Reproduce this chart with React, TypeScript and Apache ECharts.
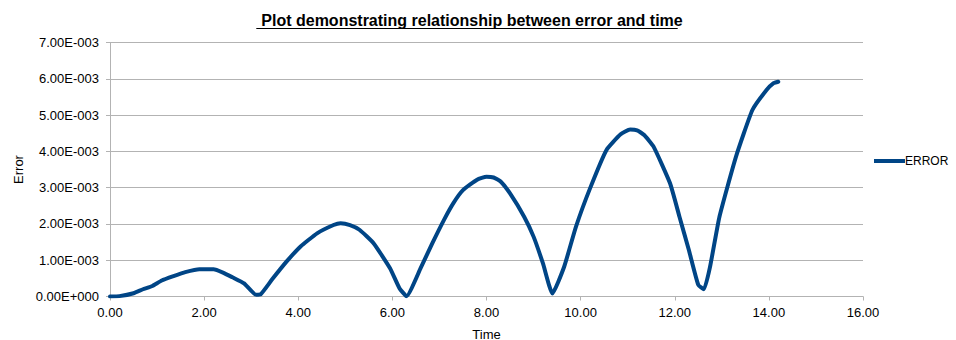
import React, { useEffect, useRef } from "react";
import * as echarts from "echarts";

const TITLE = "Plot demonstrating relationship between error and time";
const SERIES_NAME = "ERROR";
const X_NAME = "Time";
const Y_NAME = "Error";

const times = [
  0, 0.2, 0.5, 0.7, 0.9, 1.1, 1.35, 1.6, 1.9, 2.2, 2.4, 2.6, 2.85, 3.1, 3.2, 3.45, 3.75, 4.05,
  4.4, 4.75, 4.9, 5.1, 5.3, 5.6, 5.95, 6.15, 6.3, 6.6, 6.85, 7.1, 7.3, 7.5, 7.8, 8.0, 8.15,
  8.3, 8.5, 8.8, 9.0, 9.2, 9.4, 9.65, 9.9, 10.2, 10.55, 10.85, 11.05, 11.2, 11.35, 11.55,
  11.9, 12.1, 12.3, 12.5, 12.62, 12.75, 12.95, 13.3, 13.65, 13.95, 14.1, 14.2,
];
const errors = [
  0, 0.01e-3, 0.09e-3, 0.2e-3, 0.29e-3, 0.44e-3, 0.56e-3, 0.67e-3, 0.75e-3, 0.75e-3, 0.66e-3,
  0.53e-3, 0.36e-3, 0.05e-3, 0.06e-3, 0.48e-3, 0.96e-3, 1.38e-3, 1.74e-3, 1.97e-3, 2.02e-3,
  1.97e-3, 1.84e-3, 1.47e-3, 0.78e-3, 0.23e-3, 0.01e-3, 0.78e-3, 1.47e-3, 2.12e-3, 2.58e-3,
  2.93e-3, 3.22e-3, 3.3e-3, 3.28e-3, 3.17e-3, 2.84e-3, 2.2e-3, 1.65e-3, 0.91e-3, 0.08e-3,
  0.82e-3, 1.92e-3, 2.98e-3, 4.04e-3, 4.47e-3, 4.6e-3, 4.58e-3, 4.45e-3, 4.13e-3, 3.12e-3,
  2.2e-3, 1.28e-3, 0.32e-3, 0.2e-3, 0.82e-3, 2.2e-3, 3.85e-3, 5.14e-3, 5.69e-3, 5.88e-3,
  5.92e-3,
];

const X_MIN = 0, X_MAX = 16, X_STEP = 2;
const Y_MIN = 0, Y_MAX = 0.007, Y_STEP = 0.001;

function sci(v: number): string {
  if (Math.abs(v) < 1e-12) return "0.00E+000";
  let exp = Math.floor(Math.log10(Math.abs(v)));
  let mant = v / Math.pow(10, exp);
  if (Math.abs(mant) >= 9.995) { mant /= 10; exp += 1; }
  const e = String(Math.abs(exp)).padStart(3, "0");
  return mant.toFixed(2) + "E" + (exp < 0 ? "-" : "+") + e;
}

const FONT = "'Liberation Sans', Arial, sans-serif";

export default function App() {
  const ref = useRef<HTMLDivElement>(null);
  useEffect(() => {
    document.body.style.margin = "0";
    if (!ref.current) return;
    const chart = echarts.init(ref.current, null, { renderer: "svg" });

    const ctx = document.createElement("canvas").getContext("2d")!;
    ctx.font = "bold 16px 'Liberation Sans'";
    const tw = ctx.measureText(TITLE).width;
    const tcx = 467;

    chart.setOption({
      animation: false,
      backgroundColor: "#ffffff",
      title: {
        text: TITLE,
        left: tcx,
        top: 7,
        textAlign: "center",
        textStyle: { fontFamily: FONT, fontSize: 16, fontWeight: "bold", color: "#000" },
      },
      graphic: [
        {
          type: "line",
          shape: { x1: tcx - tw / 2, y1: 28.5, x2: tcx + tw / 2, y2: 28.5 },
          style: { stroke: "#000", lineWidth: 1 },
        },
      ],
      legend: {
        left: 869,
        top: 150,
        itemWidth: 31,
        itemHeight: 4,
        itemGap: 0,
        icon: "rect",
        data: [SERIES_NAME],
        textStyle: { fontFamily: FONT, fontSize: 12, color: "#000", padding: [0, 0, 0, -5] },
      },
      grid: {
        left: 110,
        right: 93,
        top: 42.5,
        bottom: 43.5,
        containLabel: false,
        outerBoundsMode: "none",
      },
      xAxis: {
        type: "value",
        min: X_MIN,
        max: X_MAX,
        interval: X_STEP,
        name: X_NAME,
        nameLocation: "middle",
        nameGap: 31,
        nameTextStyle: { fontFamily: FONT, fontSize: 13, color: "#000" },
        axisLine: { show: true, lineStyle: { color: "#b3b3b3" } },
        axisTick: { show: true, length: 4, lineStyle: { color: "#b3b3b3" } },
        axisLabel: {
          fontFamily: FONT,
          fontSize: 13,
          color: "#000",
          margin: 9,
          formatter: (v: number) => v.toFixed(2),
        },
        splitLine: { show: false },
      },
      yAxis: {
        type: "value",
        min: Y_MIN,
        max: Y_MAX,
        interval: Y_STEP,
        name: Y_NAME,
        nameLocation: "middle",
        nameGap: 80,
        nameRotate: 90,
        nameTextStyle: { fontFamily: FONT, fontSize: 13, color: "#000" },
        axisLine: { show: true, lineStyle: { color: "#b3b3b3" } },
        axisTick: { show: true, length: 4, lineStyle: { color: "#b3b3b3" } },
        axisLabel: {
          fontFamily: FONT,
          fontSize: 13,
          color: "#000",
          margin: 11,
          formatter: (v: number) => sci(v),
        },
        splitLine: { show: true, lineStyle: { color: "#b3b3b3", width: 1 } },
      },
      series: [
        {
          name: SERIES_NAME,
          type: "line",
          data: times.map((t, i) => [t, errors[i]]),
          showSymbol: false,
          symbol: "none",
          smooth: 0.15,
          lineStyle: { color: "#004586", width: 4, join: "round", cap: "round" },
          itemStyle: { color: "#004586" },
        },
      ],
    });
    return () => chart.dispose();
  }, []);
  return <div ref={ref} style={{ width: 956, height: 340 }} />;
}
